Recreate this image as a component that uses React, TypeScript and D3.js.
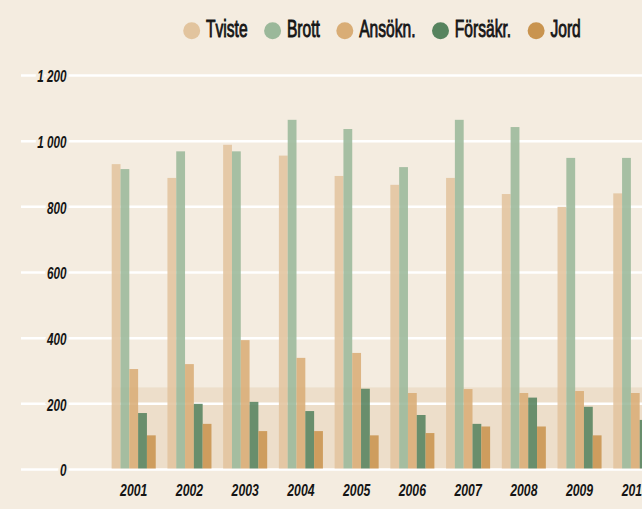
import React, { useEffect, useRef } from 'react';
import * as d3 from 'd3';

const years = ['2001', '2002', '2003', '2004', '2005', '2006', '2007', '2008', '2009', '2010'];
const seriesNames = ['Tviste', 'Brott', 'Ansökn.', 'Försäkr.', 'Jord'];
const seriesColors = ['#E2C49E', '#9BB89A', '#D9AD76', '#56835E', '#C9944F'];

const tviste = [930, 888, 989, 956, 894, 867, 888, 839, 800, 841];
const brott = [915, 969, 969, 1065, 1037, 921, 1065, 1043, 949, 949];
const ansokn = [306, 321, 394, 340, 355, 233, 245, 233, 239, 233];
const forsakr = [172, 200, 206, 178, 246, 166, 139, 219, 191, 151];
const jord = [104, 139, 117, 117, 104, 111, 131, 131, 104, 110];

const yTicks = [0, 200, 400, 600, 800, 1000, 1200];
const bandRange = [0, 250];

const W = 642;
const H = 509;
const BG = '#F4ECE0';
const FONT = '"Liberation Sans", Arial, sans-serif';

export default function App() {
  const svgRef = useRef<SVGSVGElement>(null);

  useEffect(() => {
    document.body.style.margin = '0';
    const svg = d3.select(svgRef.current);
    svg.selectAll('*').remove();

    const values = [tviste, brott, ansokn, forsakr, jord];

    const x = d3.scaleBand().domain(years).range([100, 669]).paddingInner(0.21).paddingOuter(0.21);
    const xi = d3.scaleBand().domain(seriesNames).range([0, x.bandwidth()]);
    const y = d3.scaleLinear().domain([0, 1200]).range([469.5, 75.5]);

    svg.append('rect').attr('width', W).attr('height', H).attr('fill', BG);

    // shaded band
    svg.append('rect')
      .attr('x', x(years[0])!)
      .attr('y', y(bandRange[1]))
      .attr('width', W - x(years[0])!)
      .attr('height', y(bandRange[0]) - y(bandRange[1]))
      .attr('fill', '#EDDECA');

    // gridlines
    svg.append('g').selectAll('line').data(yTicks).join('line')
      .attr('x1', 21).attr('x2', W)
      .attr('y1', d => y(d)).attr('y2', d => y(d))
      .attr('stroke', '#fff').attr('stroke-width', 2.5);

    // y labels
    const fmt = (d: number) => d3.format(',')(d).replace(',', ' ');
    svg.append('g').selectAll('g').data(yTicks).join('g')
      .attr('transform', d => `translate(66.5,${y(d) + 6.8}) scale(0.73,1)`)
      .append('text')
      .attr('text-anchor', 'end')
      .attr('font-family', FONT)
      .attr('font-style', 'italic')
      .attr('font-weight', 'bold')
      .attr('font-size', 16)
      .attr('fill', '#151515')
      .attr('stroke', BG).attr('stroke-width', 6).attr('paint-order', 'stroke')
      .text(d => fmt(d));

    // bars
    const groups = svg.append('g').selectAll('g').data(years).join('g')
      .attr('transform', d => `translate(${x(d)},0)`);
    groups.selectAll('rect')
      .data((_, i) => seriesNames.map((s, k) => ({ s, k, v: values[k][i] })))
      .join('rect')
      .attr('x', d => xi(d.s)!)
      .attr('width', xi.bandwidth())
      .attr('y', d => y(d.v))
      .attr('height', d => y(0) - 1 - y(d.v))
      .attr('fill', d => seriesColors[d.k])
      .attr('fill-opacity', 0.88);

    // x labels
    svg.append('g').selectAll('g').data(years).join('g')
      .attr('transform', d => `translate(${x(d)! + x.bandwidth() / 2},496.3) scale(0.72,1)`)
      .append('text')
      .attr('text-anchor', 'middle')
      .attr('font-family', FONT)
      .attr('font-style', 'italic')
      .attr('font-weight', 'bold')
      .attr('font-size', 17)
      .attr('fill', '#151515')
      .text(d => d);

    // legend
    const legend = svg.append('g');
    const sq = 0.65;
    let cx = 191.7;
    seriesNames.forEach((name, k) => {
      legend.append('circle').attr('cx', cx).attr('cy', 30.7).attr('r', 8.5).attr('fill', seriesColors[k]);
      const t = legend.append('g').attr('transform', `translate(${cx + 14.3},37.3) scale(${sq},1)`)
        .append('text')
        .attr('font-family', FONT)
        .attr('font-size', 24)
        .attr('fill', '#151515')
        .attr('stroke', '#151515').attr('stroke-width', 0.9)
        .text(name);
      const w = (t.node() as SVGTextElement).getComputedTextLength() * sq;
      cx = cx + 14.3 + w + 25;
    });
  }, []);

  return <svg ref={svgRef} width={W} height={H} style={{ display: 'block' }} />;
}
